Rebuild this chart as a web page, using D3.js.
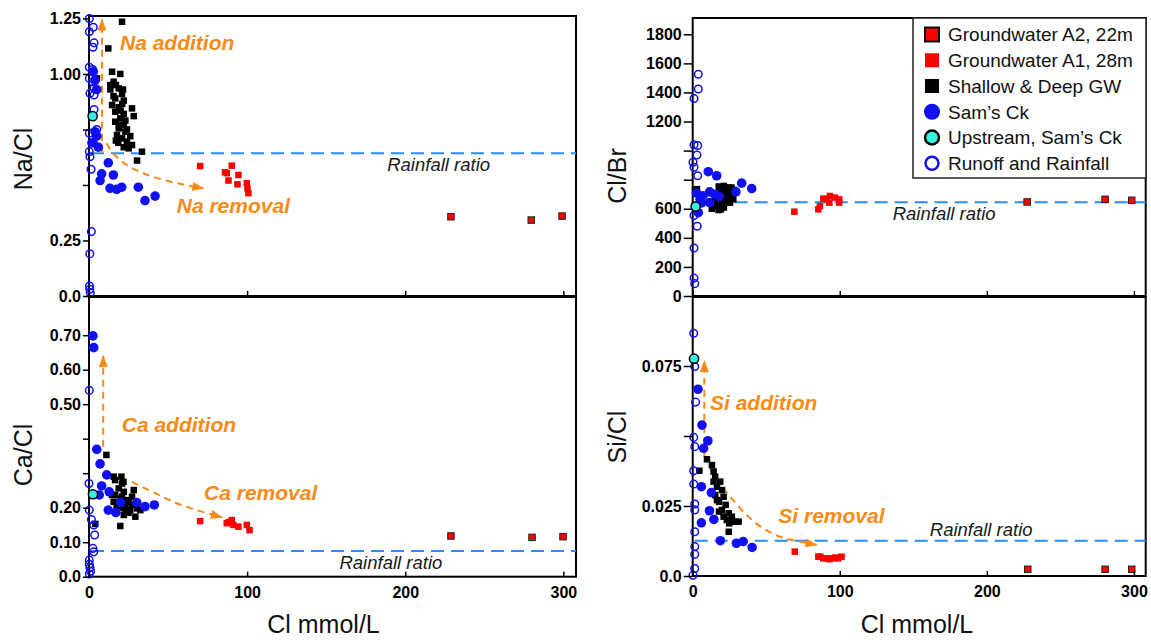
<!DOCTYPE html>
<html>
<head>
<meta charset="utf-8">
<script src="https://cdn.jsdelivr.net/npm/d3@7"></script>
<style>
  html, body { margin: 0; padding: 0; background: #fff; }
  svg { display: block; font-family: "Liberation Sans", Arial, Helvetica, sans-serif; }
</style>
</head>
<body>
<svg id="chart" width="1151" height="640"></svg>
<script>
// ---------------- Data: [Cl mmol/L, ratio] ----------------
// Na/Cl
const naRunoff = [[0.2,1.25],[2.7,1.21],[0.2,1.19],[3.2,1.14],[2.5,1.12],[0.2,1.03],[2.3,1.02],[0.2,0.98],[2.3,0.965],[3.2,0.935],[0.6,0.913],[3.2,0.905],[3.2,0.84],[4.9,0.75],[0.2,0.733],[1.7,0.69],[0.2,0.65],[0.6,0.627],[1.3,0.571],[1.5,0.29],[0.5,0.19],[0.3,0.045],[0.5,0.03],[0.8,0.015]];
const naSams = [[2.7,1.01],[3.8,0.97],[4.9,0.93],[3.8,0.74],[4.9,0.72],[2.5,0.69],[5.9,0.67],[12.2,0.60],[8,0.55],[15.4,0.545],[7,0.52],[13.3,0.485],[17.5,0.48],[20.7,0.49],[31.2,0.49],[35.4,0.43],[41.8,0.45]];
const naUpstream = [[2.3,0.81]];
const naGW = [[20.9,1.235],[12.2,1.115],[5,0.98],[14.6,1.01],[19.8,1.00],[15.6,0.965],[13.5,0.93],[18.8,0.935],[20.9,0.91],[16.6,0.89],[22,0.88],[14.6,0.86],[18.8,0.85],[27.2,0.845],[16.6,0.83],[22,0.82],[28.3,0.81],[19.8,0.80],[16.6,0.785],[22,0.77],[18.8,0.755],[23,0.74],[17.7,0.725],[26.1,0.72],[20.9,0.71],[24,0.695],[27.2,0.68],[22,0.67],[25.1,0.665],[33.5,0.65],[30.4,0.61],[17,0.95],[21,0.865],[19,0.77],[23,0.79],[15.5,0.90],[18.5,0.69],[24,0.75],[20,0.835],[17,0.70],[13.5,0.95],[21.5,0.93]];
const naA1 = [[70.3,0.585],[90.3,0.587],[87.1,0.553],[94.5,0.545],[88.2,0.52],[93.9,0.503],[99.8,0.508],[100.2,0.485],[100.8,0.463],[86,0.557]];
const naA2 = [[228.9,0.357],[279.7,0.342],[299.2,0.36]];

// Ca/Cl
const caRunoff = [[0.2,0.54],[0,0.27],[0.2,0.193],[1.5,0.166],[3,0.15],[3.6,0.121],[2.5,0.082],[3,0.072],[0.2,0.048],[0.2,0.036],[0.6,0.026],[1,0.016],[0.2,0.008]];
const caSams = [[2.5,0.698],[3,0.664],[4.9,0.369],[7,0.327],[11.2,0.295],[8,0.263],[12.8,0.246],[6.5,0.237],[12.2,0.193],[17,0.186],[20,0.215],[30.2,0.215],[35.4,0.203],[41.3,0.208]];
const caUpstream = [[2.5,0.239]];
const caGW = [[11,0.353],[4,0.153],[15.6,0.29],[20.5,0.29],[20.9,0.27],[18.8,0.256],[22,0.246],[16.6,0.237],[20.9,0.232],[27.2,0.232],[25.1,0.217],[15.6,0.217],[18.8,0.213],[23,0.208],[27.2,0.208],[30.4,0.198],[23,0.193],[26.1,0.193],[32.5,0.193],[22,0.179],[29.3,0.174],[19.8,0.147],[28.3,0.251],[14.6,0.237],[16.5,0.28],[21.8,0.275],[20,0.225],[24,0.222],[17.5,0.2],[21,0.2],[25,0.185]];
const caA1 = [[70.3,0.161],[87.1,0.155],[90.3,0.164],[91.3,0.15],[94.5,0.145],[99.8,0.15],[101.5,0.135],[88.5,0.158]];
const caA2 = [[228.9,0.118],[280.2,0.114],[299.8,0.116]];

// Cl/Br
const brRunoff = [[3.8,1525],[3.8,1424],[0.9,1358],[0.9,1040],[3.4,1035],[2.9,970],[0.2,920],[0.9,885],[3.4,827],[0.9,554],[3.1,480],[0.9,330],[0.9,123],[1.4,85]];
const brSams = [[10.6,855],[16.3,827],[33.3,776],[40.1,739],[29.4,716],[11.5,716],[2.7,707],[18,684],[5,665],[11.5,642],[3.8,573],[7,690],[15,700],[6,640]];
const brUpstream = [[2,615]];
const brGW = [[1.6,723],[17.6,591],[22,746],[24.3,712],[25.4,642],[19.8,665],[16.3,619],[23.1,688],[27.6,665],[14,637],[21.2,608],[26.4,746],[18.3,712],[17.7,753],[21.1,757],[24.5,746],[15.6,619],[19.2,596],[23.3,653],[2.9,735],[20,630],[26,690],[15,660],[22,720],[13,600],[28,730]];
const brA1 = [[69.1,580],[85.4,596],[86.5,619],[88.8,670],[92.9,642],[93.3,688],[96.7,677],[99.6,665],[99.6,642],[91,665]];
const brA2 = [[227.4,647],[280.4,665],[298.5,658]];

// Si/Cl
const siRunoff = [[0.7,0.0867],[1.4,0.0748],[2,0.0621],[0.7,0.0495],[1.4,0.0462],[0.7,0.0376],[0.7,0.0328],[1.4,0.0257],[1.4,0.0236],[1.4,0.0158],[1.4,0.0105],[1.4,0.0078],[1.4,0.0027],[0.2,0.0003]];
const siSams = [[3.6,0.0667],[6.3,0.0539],[10.3,0.0483],[7.4,0.0456],[5.9,0.0319],[12.7,0.0298],[11.4,0.0233],[14.4,0.0202],[5.9,0.019],[18.8,0.0126],[29.7,0.0117],[34.3,0.0123],[40.4,0.0102]];
const siUpstream = [[0.9,0.0776]];
const siGW = [[4.5,0.0376],[9.7,0.0417],[13.1,0.0396],[14.2,0.0373],[15.3,0.0355],[14.2,0.0337],[18.7,0.0337],[16.5,0.0319],[19.9,0.0307],[15.3,0.0289],[21,0.0283],[17.9,0.0265],[22.4,0.0254],[19.9,0.0236],[24.5,0.0224],[21,0.0212],[26.6,0.0212],[23.2,0.02],[28.2,0.0194],[24.8,0.0188],[31.2,0.0194],[24.5,0.0158],[17.9,0.023],[16.5,0.0271]];
const siA1 = [[69.4,0.0087],[85.4,0.0069],[86.7,0.0069],[88.8,0.0063],[91,0.0063],[93,0.006],[95.5,0.0063],[98.9,0.0063],[101.2,0.0069],[97,0.0066]];
const siA2 = [[227.8,0.0024],[280.4,0.0024],[298.5,0.0024]];

// Rainfall ratios
const rainNaCl = 0.643, rainCaCl = 0.0745, rainClBr = 645, rainSiCl = 0.0126;

// Axis ticks
const clTickValues = [0, 100, 200, 300];
const clTickLabels = ["0", "100", "200", "300"];
const naTickValues = [0, 0.25, 0.5, 0.75, 1.0, 1.25];
const naTickLabels = ["0.0", "0.25", "", "", "1.00", "1.25"];
const caTickValues = [0, 0.1, 0.2, 0.3, 0.4, 0.5, 0.6, 0.7];
const caTickLabels = ["0.0", "0.10", "0.20", "", "", "0.50", "0.60", "0.70"];
const brTickValues = [0, 200, 400, 600, 800, 1000, 1200, 1400, 1600, 1800];
const brTickLabels = ["0", "200", "400", "600", "", "", "1200", "1400", "1600", "1800"];
const siTickValues = [0, 0.025, 0.05, 0.075];
const siTickLabels = ["0.0", "0.025", "", "0.075"];

// Legend entries
const legendNames = ["Groundwater A2, 22m", "Groundwater A1, 28m", "Shallow & Deep GW", "Sam\u2019s Ck", "Upstream, Sam\u2019s Ck", "Runoff and Rainfall"];

// Trend arrows (Cl, ratio)
const naAddArrow = [[8.2,0.645],[8.2,1.245]];
const naRemArrow = [[11.2,0.688],[14.4,0.65],[23.9,0.59],[34.4,0.553],[47,0.523],[60.8,0.5],[72.3,0.485]];
const caAddArrow = [[9,0.377],[9,0.64]];
const caRemArrow = [[27,0.275],[42.8,0.24],[55.5,0.213],[68.2,0.193],[84,0.172]];
const siAddArrow = [[7.9,0.0426],[7.9,0.0768]];
const siRemArrow = [[8.4,0.0426],[15.1,0.0355],[26.5,0.0277],[37.8,0.0212],[48,0.017],[59.3,0.014],[72.9,0.0123],[84.2,0.0111]];

// ---------------- Drawing ----------------
const BLUE = "#1010f0", CYAN = "#38f0e4", RED = "#ff0000", ORANGE = "#f88a16", RAIN = "#2a8cf2";
const clDomain = [0, 308];
const svg = d3.select("#chart");

svg.append("defs").append("marker")
  .attr("id", "head").attr("viewBox", "0 0 12 9")
  .attr("refX", 11).attr("refY", 4.5)
  .attr("markerWidth", 12).attr("markerHeight", 9)
  .attr("markerUnits", "userSpaceOnUse").attr("orient", "auto")
  .append("path").attr("d", "M0,0L12,4.5L0,9Z").attr("fill", ORANGE);

const styles = {
  gw:       {shape: "square", size: 6.5, fill: "#000"},
  runoff:   {shape: "circle", r: 3.8, fill: "none", stroke: BLUE, sw: 1.5},
  sams:     {shape: "circle", r: 4.8, fill: BLUE},
  upstream: {shape: "circle", r: 4.6, fill: CYAN, stroke: "#000", sw: 1.5},
  a1:       {shape: "square", size: 6.5, fill: RED},
  a2:       {shape: "square", size: 6.5, fill: RED, stroke: "#222", sw: 1}
};
const drawOrder = ["gw", "runoff", "sams", "upstream", "a1", "a2"];

const panels = [
  { left: 89, right: 576, top: 16, bottom: 296, yDomain: [0, 1.261],
    ticks: naTickValues, tickLabels: naTickLabels, tickLen: 6, xLabels: false,
    label: "Na/Cl", labelX: 32, labelY: 159,
    rain: rainNaCl, rainText: [188.6, 0.563],
    series: {gw: naGW, runoff: naRunoff, sams: naSams, upstream: naUpstream, a1: naA1, a2: naA2},
    arrows: [{pts: naAddArrow, curve: false}, {pts: naRemArrow, curve: true}],
    notes: [{t: "Na addition", at: [19.6, 1.108]}, {t: "Na removal", at: [55.5, 0.372]}] },
  { left: 89, right: 576, top: 297, bottom: 576.7, yDomain: [0, 0.8107],
    ticks: caTickValues, tickLabels: caTickLabels, tickLen: 6, xLabels: true,
    label: "Ca/Cl", labelX: 32, labelY: 455,
    rain: rainCaCl, rainText: [158.4, 0.0223],
    series: {gw: caGW, runoff: caRunoff, sams: caSams, upstream: caUpstream, a1: caA1, a2: caA2},
    arrows: [{pts: caAddArrow, curve: false}, {pts: caRemArrow, curve: true}],
    notes: [{t: "Ca addition", at: [20.7, 0.419]}, {t: "Ca removal", at: [72.8, 0.222]}] },
  { left: 692.7, right: 1145.7, top: 18, bottom: 296, yDomain: [0, 1912],
    ticks: brTickValues, tickLabels: brTickLabels, tickLen: 9, xLabels: false,
    label: "Cl/Br", labelX: 626, labelY: 176,
    rain: rainClBr, rainText: [136, 520],
    series: {gw: brGW, runoff: brRunoff, sams: brSams, upstream: brUpstream, a1: brA1, a2: brA2},
    arrows: [], notes: [] },
  { left: 692.7, right: 1145.7, top: 297, bottom: 576, yDomain: [0, 0.09964],
    ticks: siTickValues, tickLabels: siTickLabels, tickLen: 9, xLabels: true,
    label: "Si/Cl", labelX: 626, labelY: 437,
    rain: rainSiCl, rainText: [161.2, 0.0143],
    series: {gw: siGW, runoff: siRunoff, sams: siSams, upstream: siUpstream, a1: siA1, a2: siA2},
    arrows: [{pts: siAddArrow, curve: false}, {pts: siRemArrow, curve: true}],
    notes: [{t: "Si addition", at: [11.75, 0.0593]}, {t: "Si removal", at: [58.2, 0.0189]}] }
];

panels.forEach(p => {
  const x = d3.scaleLinear().domain(clDomain).range([p.left, p.right]);
  const y = d3.scaleLinear().domain(p.yDomain).range([p.bottom, p.top]);
  const g = svg.append("g");

  // plot frame
  g.append("rect")
    .attr("x", p.left).attr("y", p.top)
    .attr("width", p.right - p.left).attr("height", p.bottom - p.top)
    .attr("fill", "none").attr("stroke", "#000").attr("stroke-width", 2);

  // rainfall ratio reference line
  g.append("line")
    .attr("x1", p.left + 2).attr("x2", p.right)
    .attr("y1", y(p.rain)).attr("y2", y(p.rain))
    .attr("stroke", RAIN).attr("stroke-width", 2).attr("stroke-dasharray", "13 7");
  g.append("text")
    .attr("x", x(p.rainText[0])).attr("y", y(p.rainText[1]))
    .attr("font-size", 18.5).attr("font-style", "italic").attr("fill", "#1a1a1a")
    .text("Rainfall ratio");

  // addition / removal trend arrows
  p.arrows.forEach(a => {
    const line = d3.line().x(d => x(d[0])).y(d => y(d[1]));
    if (a.curve) line.curve(d3.curveCatmullRom.alpha(0.5));
    g.append("path").attr("d", line(a.pts))
      .attr("fill", "none").attr("stroke", ORANGE).attr("stroke-width", 2)
      .attr("stroke-dasharray", "7 5").attr("marker-end", "url(#head)");
  });

  // data series
  drawOrder.forEach(k => {
    const st = styles[k];
    const data = p.series[k];
    if (st.shape === "square") {
      g.selectAll(null).data(data).join("rect")
        .attr("x", d => x(d[0]) - st.size / 2).attr("y", d => y(d[1]) - st.size / 2)
        .attr("width", st.size).attr("height", st.size)
        .attr("fill", st.fill)
        .attr("stroke", st.stroke || "none").attr("stroke-width", st.sw || 0);
    } else {
      g.selectAll(null).data(data).join("circle")
        .attr("cx", d => x(d[0])).attr("cy", d => y(d[1])).attr("r", st.r)
        .attr("fill", st.fill)
        .attr("stroke", st.stroke || "none").attr("stroke-width", st.sw || 0);
    }
  });

  // annotations
  p.notes.forEach(n => {
    g.append("text").attr("x", x(n.at[0])).attr("y", y(n.at[1]))
      .attr("font-size", 21).attr("font-weight", "bold").attr("font-style", "italic")
      .attr("fill", ORANGE).text(n.t);
  });

  // y axis
  const yAxis = d3.axisLeft(y).tickValues(p.ticks)
    .tickFormat((d, i) => p.tickLabels[i]).tickSize(p.tickLen).tickPadding(2);
  const ya = g.append("g").attr("transform", `translate(${p.left},0)`).call(yAxis);
  ya.select(".domain").remove();
  ya.selectAll(".tick line").attr("stroke", "#000").attr("stroke-width", 1.5);
  ya.selectAll(".tick text").attr("font-size", 16).attr("font-weight", "bold")
    .attr("fill", "#000").attr("font-family", "'Liberation Sans', Arial, sans-serif");

  // x axis (inward ticks)
  const xAxis = d3.axisBottom(x).tickValues(clTickValues)
    .tickFormat((d, i) => p.xLabels ? clTickLabels[i] : "").tickSize(-5).tickPadding(10);
  const xa = g.append("g").attr("transform", `translate(0,${p.bottom})`).call(xAxis);
  xa.select(".domain").remove();
  xa.selectAll(".tick line").attr("stroke", "#000").attr("stroke-width", 1.5);
  xa.selectAll(".tick text").attr("font-size", 16).attr("font-weight", "bold")
    .attr("fill", "#000").attr("font-family", "'Liberation Sans', Arial, sans-serif");

  // y axis title
  g.append("text")
    .attr("transform", `translate(${p.labelX},${p.labelY}) rotate(-90)`)
    .attr("text-anchor", "middle").attr("font-size", 25).attr("fill", "#111")
    .text(p.label);
});

// x axis titles
[323.5, 917].forEach(cx => {
  svg.append("text").attr("x", cx).attr("y", 633).attr("text-anchor", "middle")
    .attr("font-size", 25).attr("fill", "#111").text("Cl mmol/L");
});

// legend
const lg = svg.append("g");
lg.append("rect").attr("x", 913).attr("y", 18).attr("width", 233).attr("height", 160)
  .attr("fill", "#fff").attr("stroke", "#222").attr("stroke-width", 1.5);
const rowY = d3.scaleLinear().domain([0, 5]).range([34.5, 163.3]);
const legendKeys = ["a2", "a1", "gw", "sams", "upstream", "runoff"];
legendKeys.forEach((k, i) => {
  const cy = rowY(i), cx = 932;
  if (k === "a2") {
    lg.append("rect").attr("x", cx - 7).attr("y", cy - 7).attr("width", 14).attr("height", 14)
      .attr("fill", RED).attr("stroke", "#111").attr("stroke-width", 2);
  } else if (k === "a1" || k === "gw") {
    lg.append("rect").attr("x", cx - 7).attr("y", cy - 7).attr("width", 14).attr("height", 14)
      .attr("fill", k === "a1" ? RED : "#000");
  } else if (k === "sams") {
    lg.append("circle").attr("cx", cx).attr("cy", cy).attr("r", 8).attr("fill", BLUE);
  } else if (k === "upstream") {
    lg.append("circle").attr("cx", cx).attr("cy", cy).attr("r", 7).attr("fill", CYAN)
      .attr("stroke", "#000").attr("stroke-width", 2.5);
  } else {
    lg.append("circle").attr("cx", cx).attr("cy", cy).attr("r", 6.5).attr("fill", "none")
      .attr("stroke", BLUE).attr("stroke-width", 2.5);
  }
  lg.append("text").attr("x", 948).attr("y", cy + 6.8).attr("font-size", 19)
    .attr("fill", "#111").text(legendNames[i]);
});
</script>
</body>
</html>
